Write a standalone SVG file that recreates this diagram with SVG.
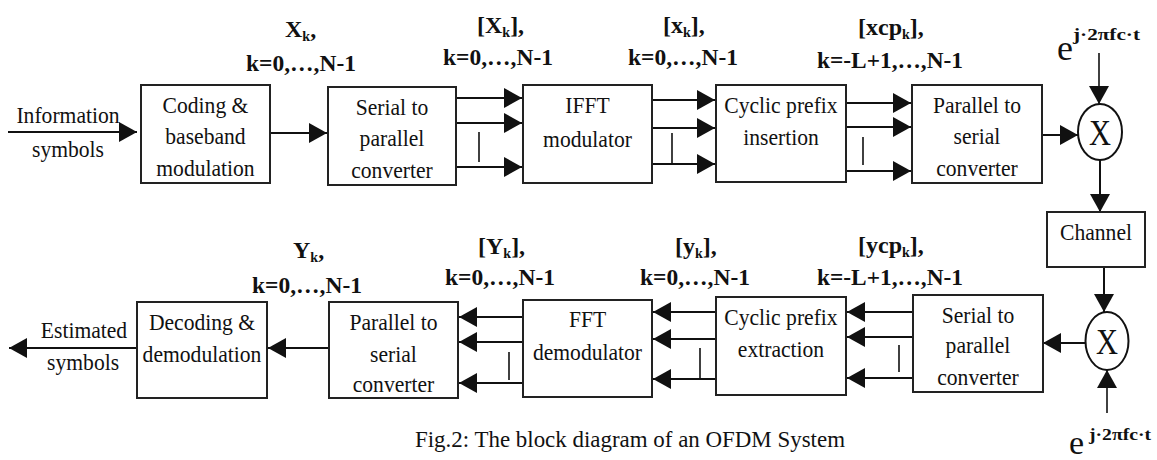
<svg xmlns="http://www.w3.org/2000/svg" width="1157" height="460" viewBox="0 0 1157 460" font-family="'Liberation Serif', 'DejaVu Serif', 'Times New Roman', serif">
<style>
text{font-family:'Liberation Serif','DejaVu Serif','Times New Roman',serif;fill:#111}
.bt{font-size:24px;text-anchor:middle}
.lb{font-size:24px;font-weight:bold}
.lc{font-size:24px;font-weight:bold;text-anchor:middle}
.sub{font-size:14px}
.box{fill:#fff;stroke:#222;stroke-width:2}
.ln{stroke:#111;stroke-width:2;fill:none}
.tk{stroke:#111;stroke-width:1.6;fill:none}
.mx{fill:#fff;stroke:#111;stroke-width:2}
</style>
<defs>
<marker id="ah" markerWidth="18" markerHeight="20" refX="18" refY="10" orient="auto" markerUnits="userSpaceOnUse">
<path d="M0,0 L18,10 L0,20 z" fill="#111"/>
</marker>
</defs>
<rect width="1157" height="460" fill="#fff"/>

<g id="connectors">
<line class="ln" x1="8" y1="132" x2="137" y2="132" marker-end="url(#ah)"/>
<line class="ln" x1="270" y1="133" x2="327" y2="133" marker-end="url(#ah)"/>
<line class="ln" x1="456" y1="98" x2="522" y2="98" marker-end="url(#ah)"/>
<line class="ln" x1="456" y1="123" x2="522" y2="123" marker-end="url(#ah)"/>
<line class="ln" x1="456" y1="167" x2="522" y2="167" marker-end="url(#ah)"/>
<line class="tk" x1="479" y1="132" x2="479" y2="162"/>
<line class="ln" x1="652" y1="100" x2="715" y2="100" marker-end="url(#ah)"/>
<line class="ln" x1="652" y1="128" x2="715" y2="128" marker-end="url(#ah)"/>
<line class="ln" x1="652" y1="164" x2="715" y2="164" marker-end="url(#ah)"/>
<line class="tk" x1="672" y1="133" x2="672" y2="164"/>
<line class="ln" x1="846" y1="103" x2="911" y2="103" marker-end="url(#ah)"/>
<line class="ln" x1="846" y1="127" x2="911" y2="127" marker-end="url(#ah)"/>
<line class="ln" x1="846" y1="171" x2="911" y2="171" marker-end="url(#ah)"/>
<line class="tk" x1="863" y1="137" x2="863" y2="165"/>
<line class="ln" x1="1042" y1="135" x2="1078" y2="135" marker-end="url(#ah)"/>
<line class="tk" x1="1099" y1="53" x2="1099" y2="104" marker-end="url(#ah)"/>
<line class="ln" x1="1100" y1="160" x2="1100" y2="212" marker-end="url(#ah)"/>
<line class="ln" x1="1104" y1="267" x2="1104" y2="312" marker-end="url(#ah)"/>
<line class="tk" x1="1107" y1="413" x2="1107" y2="370" marker-end="url(#ah)"/>
<line class="ln" x1="1086" y1="343" x2="1043" y2="343" marker-end="url(#ah)"/>
<line class="ln" x1="913" y1="312" x2="847" y2="312" marker-end="url(#ah)"/>
<line class="ln" x1="913" y1="337" x2="847" y2="337" marker-end="url(#ah)"/>
<line class="ln" x1="913" y1="378" x2="847" y2="378" marker-end="url(#ah)"/>
<line class="tk" x1="899" y1="345" x2="899" y2="372"/>
<line class="ln" x1="716" y1="312" x2="653" y2="312" marker-end="url(#ah)"/>
<line class="ln" x1="716" y1="339" x2="653" y2="339" marker-end="url(#ah)"/>
<line class="ln" x1="716" y1="379" x2="653" y2="379" marker-end="url(#ah)"/>
<line class="tk" x1="700" y1="348" x2="700" y2="379"/>
<line class="ln" x1="523" y1="317" x2="459" y2="317" marker-end="url(#ah)"/>
<line class="ln" x1="523" y1="342" x2="459" y2="342" marker-end="url(#ah)"/>
<line class="ln" x1="523" y1="383" x2="459" y2="383" marker-end="url(#ah)"/>
<line class="tk" x1="509" y1="352" x2="509" y2="380"/>
<line class="ln" x1="329" y1="348" x2="268" y2="348" marker-end="url(#ah)"/>
<line class="ln" x1="137" y1="348" x2="9" y2="348" marker-end="url(#ah)"/>
</g>

<g id="in-label" transform="matrix(0.9,0,0,1,6.8,0)">
<text class="bt" x="68" y="123">Information</text>
<text class="bt" x="68" y="157">symbols</text>
</g>

<g id="coding">
<rect class="box" x="141" y="85" width="129" height="98"/>
<g transform="matrix(0.9,0,0,1,20.55,0)">
<text class="bt" x="205.5" y="113">Coding &amp;</text>
<text class="bt" x="205.5" y="144">baseband</text>
<text class="bt" x="205.5" y="176">modulation</text>
</g>
</g>

<g id="sp1">
<rect class="box" x="328" y="87" width="128" height="98"/>
<g transform="matrix(0.9,0,0,1,39.2,0)">
<text class="bt" x="392" y="115">Serial to</text>
<text class="bt" x="392" y="146">parallel</text>
<text class="bt" x="392" y="178">converter</text>
</g>
</g>

<g id="ifft">
<rect class="box" x="523" y="85" width="129" height="98"/>
<g transform="matrix(0.9,0,0,1,58.75,0)">
<text class="bt" x="587.5" y="113">IFFT</text>
<text class="bt" x="587.5" y="147">modulator</text>
</g>
</g>

<g id="cpi">
<rect class="box" x="716" y="85" width="130" height="97"/>
<g transform="matrix(0.9,0,0,1,78.1,0)">
<text class="bt" x="781" y="113">Cyclic prefix</text>
<text class="bt" x="781" y="145">insertion</text>
</g>
</g>

<g id="ps1">
<rect class="box" x="912" y="85" width="130" height="98"/>
<g transform="matrix(0.9,0,0,1,97.7,0)">
<text class="bt" x="977" y="113">Parallel to</text>
<text class="bt" x="977" y="144">serial</text>
<text class="bt" x="977" y="176">converter</text>
</g>
</g>

<g id="mixer1">
<ellipse class="mx" cx="1100" cy="132" rx="22" ry="28"/>
<text x="1100" y="145" font-size="36" text-anchor="middle" textLength="22" lengthAdjust="spacingAndGlyphs">X</text>
</g>

<g id="carrier1">
<text x="1057" y="60" font-size="36">e</text>
<text x="1073" y="40" font-size="17" font-weight="bold" textLength="67" lengthAdjust="spacingAndGlyphs">j·2πfc·t</text>
</g>

<g id="channel">
<rect class="box" x="1047" y="212" width="98" height="55"/>
<g transform="matrix(0.9,0,0,1,109.6,0)">
<text class="bt" x="1096" y="240">Channel</text>
</g>
</g>

<g id="mixer2">
<ellipse class="mx" cx="1107" cy="341" rx="21.5" ry="29"/>
<text x="1107" y="354" font-size="36" text-anchor="middle" textLength="22" lengthAdjust="spacingAndGlyphs">X</text>
</g>

<g id="carrier2">
<text x="1069" y="454" font-size="34">e</text>
<text x="1089" y="440" font-size="17" font-weight="bold" textLength="62" lengthAdjust="spacingAndGlyphs">j·2πfc·t</text>
</g>

<g id="sp2">
<rect class="box" x="913" y="295" width="130" height="97"/>
<g transform="matrix(0.9,0,0,1,97.8,0)">
<text class="bt" x="978" y="323">Serial to</text>
<text class="bt" x="978" y="353">parallel</text>
<text class="bt" x="978" y="385">converter</text>
</g>
</g>

<g id="cpe">
<rect class="box" x="716" y="297" width="130" height="98"/>
<g transform="matrix(0.9,0,0,1,78.1,0)">
<text class="bt" x="781" y="325">Cyclic prefix</text>
<text class="bt" x="781" y="357">extraction</text>
</g>
</g>

<g id="fft">
<rect class="box" x="523" y="300" width="129" height="97"/>
<g transform="matrix(0.9,0,0,1,58.75,0)">
<text class="bt" x="587.5" y="327">FFT</text>
<text class="bt" x="587.5" y="360">demodulator</text>
</g>
</g>

<g id="ps2">
<rect class="box" x="329" y="302" width="129" height="96"/>
<g transform="matrix(0.9,0,0,1,39.35,0)">
<text class="bt" x="393.5" y="330">Parallel to</text>
<text class="bt" x="393.5" y="362">serial</text>
<text class="bt" x="393.5" y="392">converter</text>
</g>
</g>

<g id="decoding">
<rect class="box" x="137" y="302" width="130" height="96"/>
<g transform="matrix(0.9,0,0,1,20.2,0)">
<text class="bt" x="202" y="330">Decoding &amp;</text>
<text class="bt" x="202" y="362">demodulation</text>
</g>
</g>

<g id="out-label" transform="matrix(0.9,0,0,1,8.4,0)">
<text class="bt" x="84" y="338">Estimated</text>
<text class="bt" x="83" y="370">symbols</text>
</g>

<g id="labels">
<text class="lb" x="285" y="37">X<tspan class="sub" dy="4">k</tspan><tspan dy="-4">,</tspan></text>
<text class="lc" x="301" y="71" textLength="110" lengthAdjust="spacingAndGlyphs">k=0,…,N-1</text>
<text class="lb" x="477" y="33">[X<tspan class="sub" dy="4">k</tspan><tspan dy="-4">],</tspan></text>
<text class="lc" x="498" y="65" textLength="110" lengthAdjust="spacingAndGlyphs">k=0,…,N-1</text>
<text class="lb" x="663" y="33">[x<tspan class="sub" dy="4">k</tspan><tspan dy="-4">],</tspan></text>
<text class="lc" x="683" y="65" textLength="110" lengthAdjust="spacingAndGlyphs">k=0,…,N-1</text>
<text class="lb" x="858" y="35">[xcp<tspan class="sub" dy="4">k</tspan><tspan dy="-4">],</tspan></text>
<text class="lc" x="890" y="68" textLength="146" lengthAdjust="spacingAndGlyphs">k=-L+1,…,N-1</text>
<text class="lb" x="293" y="258">Y<tspan class="sub" dy="4">k</tspan><tspan dy="-4">,</tspan></text>
<text class="lc" x="307" y="293" textLength="110" lengthAdjust="spacingAndGlyphs">k=0,…,N-1</text>
<text class="lb" x="478" y="254">[Y<tspan class="sub" dy="4">k</tspan><tspan dy="-4">],</tspan></text>
<text class="lc" x="500" y="285" textLength="110" lengthAdjust="spacingAndGlyphs">k=0,…,N-1</text>
<text class="lb" x="675" y="254">[y<tspan class="sub" dy="4">k</tspan><tspan dy="-4">],</tspan></text>
<text class="lc" x="695" y="285" textLength="110" lengthAdjust="spacingAndGlyphs">k=0,…,N-1</text>
<text class="lb" x="858" y="253">[ycp<tspan class="sub" dy="4">k</tspan><tspan dy="-4">],</tspan></text>
<text class="lc" x="890" y="285" textLength="146" lengthAdjust="spacingAndGlyphs">k=-L+1,…,N-1</text>
</g>

<g id="caption">
<text x="415" y="447" font-size="23" textLength="430" lengthAdjust="spacingAndGlyphs">Fig.2: The block diagram of an OFDM System</text>
</g>
</svg>
